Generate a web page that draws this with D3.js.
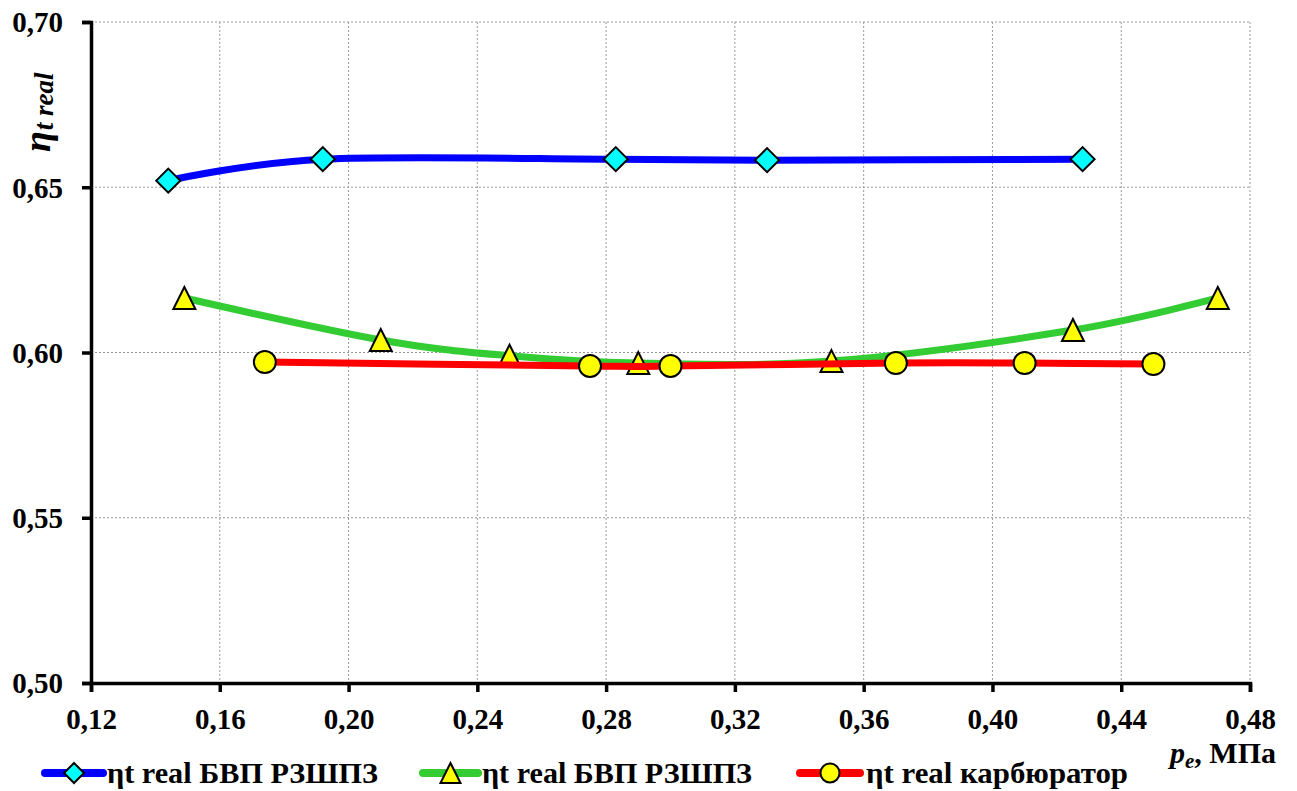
<!DOCTYPE html>
<html>
  <head>
    <meta charset="utf-8" />
    <title>ηt real</title>
    <script src="https://d3js.org/d3.v7.min.js"></script>
    <style>
      body { margin: 0; background: #fff; }
      svg { display: block; background: #fff; }
      .grid line { stroke: #9a9a9a; stroke-width: 1; stroke-dasharray: 2,2; }
    </style>
  </head>
  <body>
    <svg width="1297" height="791"></svg>
    <script>
      // data
      const xTicks = [0.12, 0.16, 0.20, 0.24, 0.28, 0.32, 0.36, 0.40, 0.44, 0.48];
      const yTicks = [0.50, 0.55, 0.60, 0.65, 0.70];

      const blueX = [0.144, 0.192, 0.283, 0.330, 0.428];
      const blueY = [0.652, 0.6585, 0.6585, 0.6582, 0.6585];

      const greenX = [0.149, 0.210, 0.250, 0.290, 0.350, 0.425, 0.470];
      const greenY = [0.6165, 0.6038, 0.599, 0.5968, 0.5974, 0.6068, 0.6165];

      const redX = [0.174, 0.275, 0.300, 0.370, 0.410, 0.450];
      const redY = [0.5971, 0.5959, 0.5959, 0.5968, 0.5968, 0.5965];

      const seriesNames = ["ηt real БВП РЗШПЗ", "ηt real БВП РЗШПЗ", "ηt real карбюратор"];

      const serif = "'Liberation Serif', 'Times New Roman', serif";
      const svg = d3.select("svg");

      const x = d3.scaleLinear().domain([0.12, 0.48]).range([91, 1250]);
      const y = d3.scaleLinear().domain([0.50, 0.70]).range([683, 22]);
      const fmt = v => d3.format(".2f")(v).replace(".", ",");

      // grid
      const grid = svg.append("g").attr("class", "grid");
      grid.selectAll(".gx").data(xTicks.slice(1)).join("line")
        .attr("x1", d => x(d)).attr("x2", d => x(d))
        .attr("y1", y(0.70)).attr("y2", y(0.50));
      grid.selectAll(".gy").data(yTicks.slice(1)).join("line")
        .attr("class", "gy")
        .attr("x1", x(0.12)).attr("x2", x(0.48))
        .attr("y1", d => y(d)).attr("y2", d => y(d));

      // axes
      const xAxis = d3.axisBottom(x).tickValues(xTicks).tickSize(9).tickFormat(fmt).tickPadding(12);
      const yAxis = d3.axisLeft(y).tickValues(yTicks).tickSize(9).tickFormat(fmt).tickPadding(19);

      const gx = svg.append("g").attr("transform", `translate(0,${y(0.50)})`).call(xAxis);
      const gy = svg.append("g").attr("transform", `translate(${x(0.12)},0)`).call(yAxis);
      [gx, gy].forEach(g => {
        g.attr("font-family", null).attr("font-size", null);
        g.select(".domain").attr("stroke", "#000").attr("stroke-width", 3.5);
        g.selectAll(".tick line").attr("stroke", "#000").attr("stroke-width", 3.5);
        g.selectAll(".tick text")
          .style("font-family", serif).style("font-weight", "bold").style("font-size", "29px")
          .attr("fill", "#000");
      });
      gx.selectAll(".tick text").attr("dy", "0.85em");
      gy.selectAll(".tick text").attr("dy", "0.34em");

      // series
      const line = d3.line().x(d => x(d[0])).y(d => y(d[1])).curve(d3.curveCatmullRom.alpha(0));
      const diamond = s => `M0,${-s}L${s},0L0,${s}L${-s},0Z`;
      const triangle = s => `M0,${-s}L${s},${s}L${-s},${s}Z`;

      const series = [
        { pts: d3.zip(blueX, blueY), color: "#0000ff", mark: "diamond", fill: "#00ffff" },
        { pts: d3.zip(greenX, greenY), color: "#33cc33", mark: "triangle", fill: "#ffff00" },
        { pts: d3.zip(redX, redY), color: "#ff0000", mark: "circle", fill: "#ffff00" }
      ];

      function drawMarker(g, kind, fill, cx, cy, s) {
        if (kind === "circle") {
          g.append("circle").attr("cx", cx).attr("cy", cy).attr("r", s)
            .attr("fill", fill).attr("stroke", "#000").attr("stroke-width", 2);
        } else {
          g.append("path").attr("d", kind === "diamond" ? diamond(s) : triangle(s))
            .attr("transform", `translate(${cx},${cy})`)
            .attr("fill", fill).attr("stroke", "#000").attr("stroke-width", 2);
        }
      }

      series.forEach(s => {
        const g = svg.append("g");
        g.append("path").attr("d", line(s.pts)).attr("fill", "none")
          .attr("stroke", s.color).attr("stroke-width", 7).attr("stroke-linecap", "round");
        s.pts.forEach(p => {
          const size = s.mark === "diamond" ? 12 : 11;
          drawMarker(g, s.mark, s.fill, x(p[0]), y(p[1]), size);
        });
      });

      // y title
      const yt = svg.append("text")
        .attr("transform", "translate(50,152) rotate(-90)")
        .style("font-family", serif)
        .style("font-weight", "bold").style("font-style", "italic");
      yt.append("tspan").style("font-size", "38px").text("η");
      yt.append("tspan").style("font-size", "27px").attr("dy", 3).attr("dx", 1).text("t real");

      // x title
      const xt = svg.append("text")
        .attr("x", 1170).attr("y", 763)
        .style("font-family", serif)
        .style("font-weight", "bold").style("font-size", "30px");
      xt.append("tspan").style("font-style", "italic").text("p");
      xt.append("tspan").style("font-style", "italic").style("font-size", "21px").attr("dy", 5).text("e");
      xt.append("tspan").attr("dy", -5).text(", МПа");

      // legend
      const legendPos = [
        { x0: 45, x1: 103, tx: 107, tw: 271 },
        { x0: 423, x1: 478, tx: 482, tw: 270 },
        { x0: 800, x1: 860, tx: 866, tw: 262 }
      ];
      const legend = svg.append("g");
      series.forEach((s, i) => {
        const p = legendPos[i];
        const ly = 773;
        legend.append("line").attr("x1", p.x0).attr("x2", p.x1).attr("y1", ly).attr("y2", ly)
          .attr("stroke", s.color).attr("stroke-width", 8).attr("stroke-linecap", "round");
        drawMarker(legend, s.mark, s.fill, (p.x0 + p.x1) / 2, ly, s.mark === "circle" ? 9.5 : 10);
        legend.append("text").attr("x", p.tx).attr("y", ly + 10)
          .style("font-family", serif).style("font-weight", "bold").style("font-size", "29px")
          .attr("textLength", p.tw).attr("lengthAdjust", "spacingAndGlyphs")
          .text(seriesNames[i]);
      });
    </script>
  </body>
</html>
